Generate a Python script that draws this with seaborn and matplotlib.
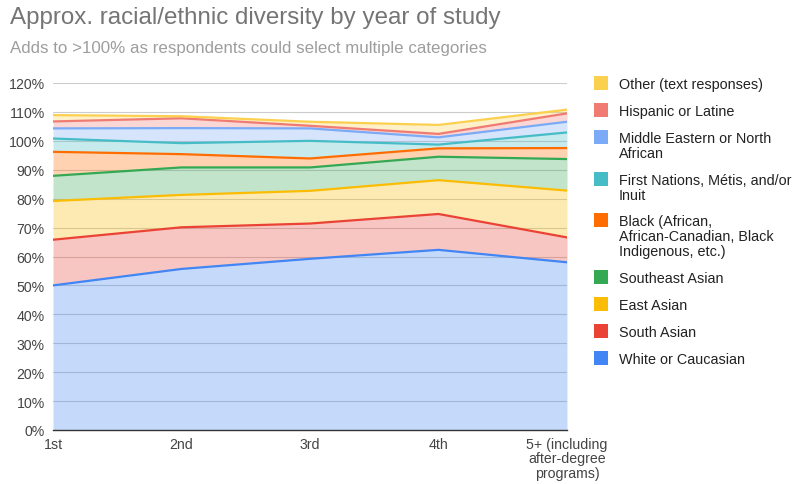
import numpy as np
import pandas as pd
import matplotlib.pyplot as plt
import seaborn as sns
from matplotlib.patches import Rectangle
from matplotlib.ticker import PercentFormatter

# year-of-study categories
years = ["1st", "2nd", "3rd", "4th", "5+ (including\nafter-degree\nprograms)"]

# share of respondents per group (%), bottom of stack first
white = [50.0, 55.7, 59.2, 62.3, 58.0]
south_asian = [15.8, 14.4, 12.2, 12.4, 8.6]
east_asian = [13.4, 11.2, 11.3, 11.7, 16.2]
southeast_asian = [8.7, 9.5, 8.1, 8.1, 10.9]
black = [8.3, 4.6, 3.1, 2.9, 3.8]
first_nations = [4.6, 3.8, 6.1, 1.3, 5.4]
middle_eastern = [3.5, 5.2, 4.3, 2.5, 3.7]
hispanic = [2.4, 3.4, 0.9, 1.2, 2.9]
other = [2.2, 0.7, 1.4, 3.1, 1.3]

groups = ["White or Caucasian", "South Asian", "East Asian", "Southeast Asian",
          "Black (African,\nAfrican-Canadian, Black\nIndigenous, etc.)",
          "First Nations, Métis, and/or\nInuit", "Middle Eastern or North\nAfrican",
          "Hispanic or Latine", "Other (text responses)"]
values = [white, south_asian, east_asian, southeast_asian, black,
          first_nations, middle_eastern, hispanic, other]
colors = ["#4285F4", "#EA4335", "#FBBC04", "#34A853", "#FF6D01",
          "#46BDC6", "#7BAAF7", "#F07B72", "#FCD04F"]

sns.set_theme(style="white")
plt.rcParams["font.family"] = ["Liberation Sans", "DejaVu Sans"]

x = np.arange(len(years))
stacked = np.cumsum(np.array(values), axis=0)
rows = []
for g, vals in zip(groups, stacked):
    for xi, v in zip(x, vals):
        rows.append({"x": xi, "y": v, "group": g})
df = pd.DataFrame(rows)

fig = plt.figure(figsize=(7.93, 4.85), dpi=100)
ax = fig.add_axes([53 / 793, 1 - 431 / 485, (567 - 53) / 793, (431 - 84) / 485])

prev = np.zeros(len(years))
for vals, c in zip(stacked, colors):
    ax.fill_between(x, prev, vals, color=c, alpha=0.3, linewidth=0, zorder=1)
    prev = vals

sns.lineplot(data=df, x="x", y="y", hue="group", palette=dict(zip(groups, colors)),
             linewidth=1.6, legend=False, ax=ax, zorder=3)

ax.set_xlim(0, len(years) - 1)
ax.set_ylim(0, 120)
ax.set_yticks(np.arange(0, 121, 10))
ax.yaxis.set_major_formatter(PercentFormatter(decimals=0))
ax.set_xticks(x)
ax.set_xticklabels(years, linespacing=1.05)
ax.set_xlabel("")
ax.set_ylabel("")
ax.grid(axis="y", color="#cccccc", linewidth=0.8, zorder=0)
ax.set_axisbelow(True)
for s in ["top", "right", "left"]:
    ax.spines[s].set_visible(False)
ax.spines["bottom"].set_color("#333333")
ax.spines["bottom"].set_linewidth(1.0)
ax.tick_params(axis="both", length=0, labelsize=10.2, labelcolor="#444444")
ax.tick_params(axis="y", pad=6)
ax.tick_params(axis="x", pad=5)
for lab in ax.get_xticklabels():
    lab.set_verticalalignment("top")

fig.text(10 / 793, 1 - 18 / 485, "Approx. racial/ethnic diversity by year of study",
         fontsize=17.4, color="#757575", va="center", ha="left")
fig.text(10 / 793, 1 - 48 / 485, "Adds to >100% as respondents could select multiple categories",
         fontsize=12.2, color="#9e9e9e", va="center", ha="left")

# legend, top entry first
y_line = 84
for g, c in zip(groups[::-1], colors[::-1]):
    fig.patches.append(Rectangle((594 / 793, 1 - (y_line + 7) / 485), 14 / 793, 14 / 485,
                                 transform=fig.transFigure, facecolor=c, edgecolor="none"))
    fig.text(619 / 793, 1 - (y_line - 6) / 485, g, fontsize=10.4, color="#222222",
             va="top", ha="left", linespacing=1.08)
    y_line += 27 + 14.7 * g.count("\n")

fig.savefig("out.png", dpi=100)
